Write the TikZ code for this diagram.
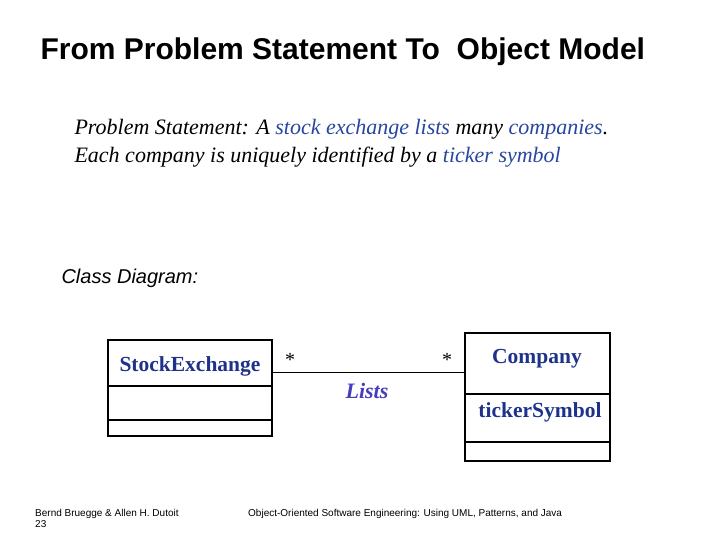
\documentclass[tikz,border=0pt]{standalone}
\usepackage{fontspec}
\setmainfont{Liberation Serif}
\setsansfont{Liberation Sans}
\definecolor{umlblue}{RGB}{30,50,140}
\definecolor{textblue}{RGB}{40,70,160}
\definecolor{roleblue}{RGB}{70,60,190}
\tikzset{
  classname/.style={text=umlblue, font=\fontsize{21.5}{25}\selectfont\bfseries},
}
\begin{document}
\begin{tikzpicture}[x=1pt,y=-1pt]
    \useasboundingbox (0,0) rectangle (720,540);
    %% title and statement
    \node[anchor=west, font=\sffamily\bfseries\fontsize{30}{34}\selectfont] (title) at (37,52) {From Problem Statement To\ \ Object Model};
    \node[anchor=west, font=\itshape\fontsize{22}{26}\selectfont] (stmt1) at (71,129) {Problem Statement: A \textcolor{textblue}{stock exchange lists} many \textcolor{textblue}{companies}.};
    \node[anchor=west, font=\itshape\fontsize{22}{26}\selectfont] (stmt2) at (71,157) {Each company is uniquely identified by a \textcolor{textblue}{ticker symbol}};
    \node[anchor=west, font=\sffamily\itshape\fontsize{20}{24}\selectfont] (cd) at (58,278) {Class Diagram:};

    %% StockExchange
    \draw[line width=1.5pt] (108,340) rectangle (272,436);
    \draw[line width=1.5pt] (108,386) -- (272,386);
    \draw[line width=1.5pt] (108,420) -- (272,420);
    \node[classname] (se) at (190,366) {StockExchange};
    \coordinate (seR) at (272,372);

    %% Company
    \draw[line width=1.5pt] (465,333) rectangle (610,461);
    \draw[line width=1.5pt] (465,394) -- (610,394);
    \draw[line width=1.5pt] (465,442) -- (610,442);
    \node[classname] (co) at (537,359) {Company};
    \node[classname] (ts) at (540,412) {tickerSymbol};
    \coordinate (coL) at (465,372);

    %% association
    \draw[line width=1pt] (seR) -- (coL);
    \node[font=\fontsize{20}{24}\selectfont] (m1) at (290,360) {*};
    \node[font=\fontsize{20}{24}\selectfont] (m2) at (447,360) {*};
    \node[text=roleblue, font=\itshape\bfseries\fontsize{22}{26}\selectfont] (lists) at (367,391) {Lists};

    %% footer
    \node[anchor=north west, align=left, inner sep=0pt, font=\sffamily\fontsize{10}{11}\selectfont] (auth) at (35,509) {Bernd Bruegge \& Allen H. Dutoit\\23};
    \node[anchor=north west, inner sep=0pt, font=\sffamily\fontsize{10}{11}\selectfont] (book) at (248,509) {Object-Oriented Software Engineering: Using UML, Patterns, and Java};
\end{tikzpicture}
\end{document}
